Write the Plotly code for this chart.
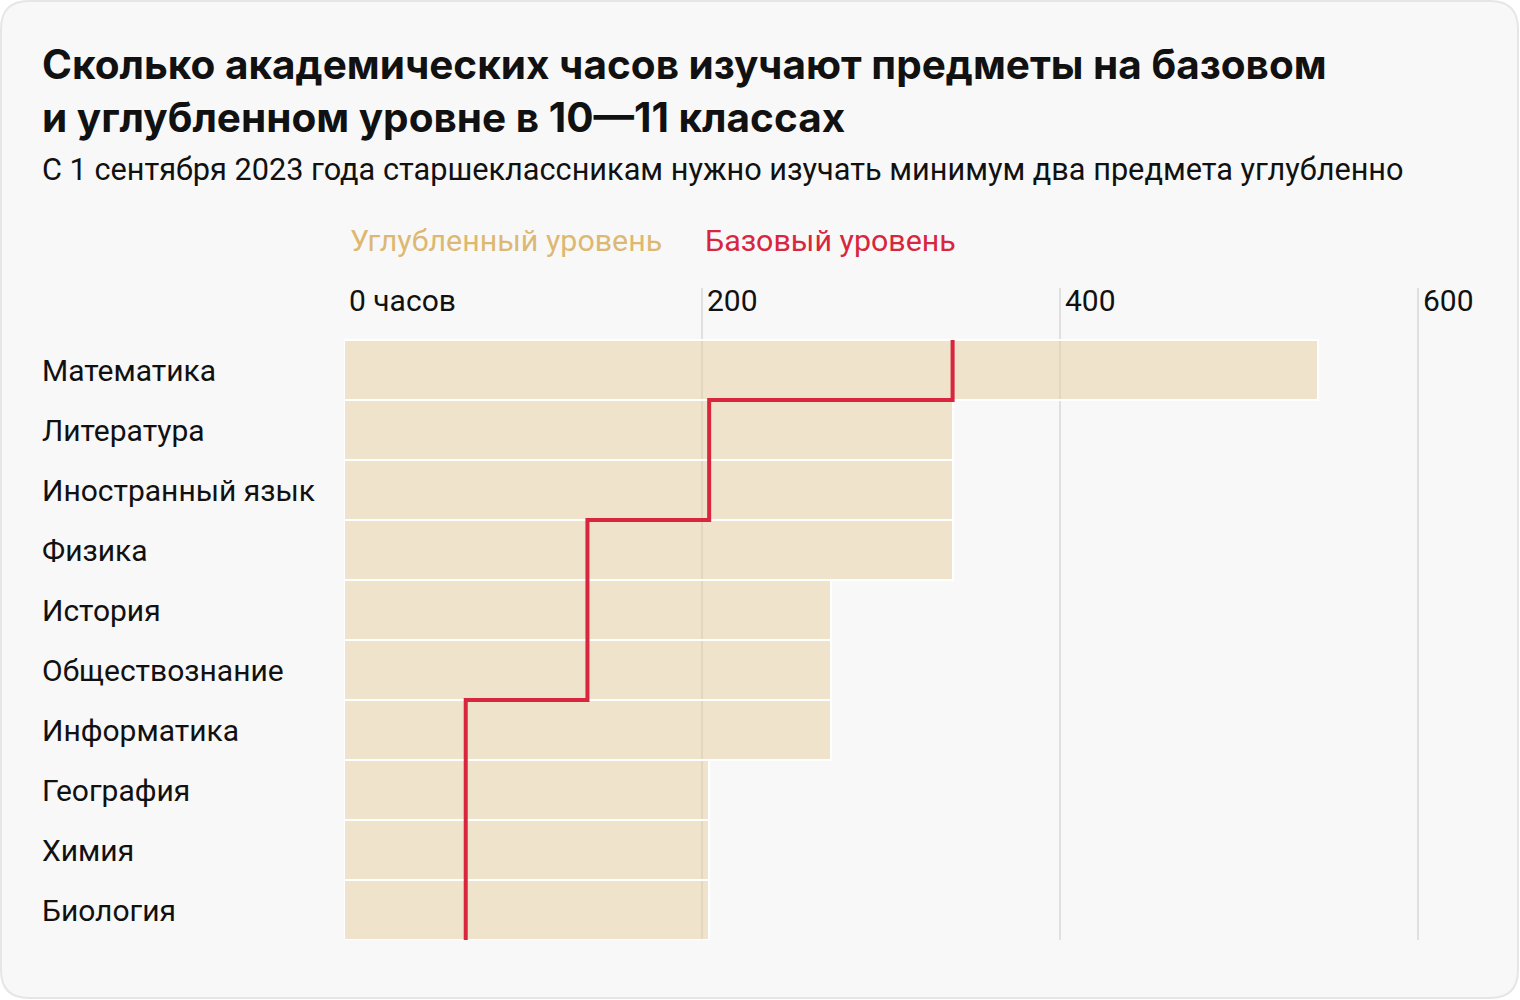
import plotly.graph_objects as go

# ------------------------------------------------------------------ data
SUBJECTS = ["Математика", "Литература", "Иностранный язык", "Физика", "История",
            "Обществознание", "Информатика", "География", "Химия", "Биология"]
ADVANCED_HOURS = [544, 340, 340, 340, 272, 272, 272, 204, 204, 204]
BASIC_HOURS = [340, 204, 204, 136, 136, 136, 68, 68, 68, 68]
TICK_VALS = [0, 200, 400, 600]
TICK_TEXT = ["0 часов", "200", "400", "600"]

TITLE = "Сколько академических часов изучают предметы на базовом<br>и углубленном уровне в 10—11 классах"
SUBTITLE = "С 1 сентября 2023 года старшеклассникам нужно изучать минимум два предмета углубленно"

FONT = "Roboto"
TITLE_FONT = "Inter"
TAN = "#DDB872"
BAR = "rgba(230,206,160,0.5)"
RED = "#D7263D"
INK = "#111111"

# ------------------------------------------------------------------ geometry
W, H = 1520, 1000
ML, MR, MT, MB = 344, 20, 288, 60
PW, PH = W - ML - MR, H - MT - MB


def px(x):
    return (x - ML) / PW


def py(y):
    return (H - MB - y) / PH


positions = list(range(len(SUBJECTS)))

# step line for the basic level: vertical span over each subject's row
step_x, step_y = [], []
for i, b in zip(positions, BASIC_HOURS):
    step_x += [b, b]
    step_y += [i - 0.5, i + 0.5]

fig = go.Figure()
fig.add_trace(go.Bar(
    x=ADVANCED_HOURS, y=positions, orientation="h", width=1,
    marker=dict(color=BAR, line=dict(color="white", width=2)),
    hoverinfo="skip", showlegend=False))
fig.add_trace(go.Scatter(
    x=step_x, y=step_y, mode="lines",
    line=dict(color=RED, width=4), hoverinfo="skip", showlegend=False))

# rounded card background
r, x0, y0, x1, y1 = 28, 1, 1, 1518, 998
card = (f"M {px(x0 + r)},{py(y0)} L {px(x1 - r)},{py(y0)} "
        f"Q {px(x1)},{py(y0)} {px(x1)},{py(y0 + r)} L {px(x1)},{py(y1 - r)} "
        f"Q {px(x1)},{py(y1)} {px(x1 - r)},{py(y1)} L {px(x0 + r)},{py(y1)} "
        f"Q {px(x0)},{py(y1)} {px(x0)},{py(y1 - r)} L {px(x0)},{py(y0 + r)} "
        f"Q {px(x0)},{py(y0)} {px(x0 + r)},{py(y0)} Z")
fig.add_shape(type="path", path=card, xref="paper", yref="paper", layer="below",
              fillcolor="#F8F8F8", line=dict(color="#E6E6E6", width=2))

ann = []
ann.append(dict(text=f"<b>{TITLE}</b>", x=px(40), y=py(38), xref="paper", yref="paper",
                xanchor="left", yanchor="top", align="left", showarrow=False,
                font=dict(family=TITLE_FONT, size=40.5, color=INK)))
ann.append(dict(text=SUBTITLE, x=px(40), y=py(170), xref="paper", yref="paper",
                xanchor="left", yanchor="middle", showarrow=False,
                font=dict(family=FONT, size=30.7, color=INK)))
ann.append(dict(text="Углубленный уровень", x=px(348), y=py(240), xref="paper", yref="paper",
                xanchor="left", yanchor="middle", showarrow=False,
                font=dict(family=FONT, size=30.4, color=TAN)))
ann.append(dict(text="Базовый уровень", x=px(703), y=py(240), xref="paper", yref="paper",
                xanchor="left", yanchor="middle", showarrow=False,
                font=dict(family=FONT, size=30.4, color=RED)))
for i, name in zip(positions, SUBJECTS):
    ann.append(dict(text=name, x=px(40), y=i, xref="paper", yref="y",
                    xanchor="left", yanchor="middle", showarrow=False,
                    font=dict(family=FONT, size=30, color=INK)))

fig.update_layout(
    width=W, height=H, margin=dict(l=ML, r=MR, t=MT, b=MB),
    paper_bgcolor="white", plot_bgcolor="rgba(0,0,0,0)",
    bargap=0, showlegend=False, annotations=ann,
    font=dict(family=FONT, color=INK),
    xaxis=dict(range=[0, PW / 1.79], side="top", tickmode="array",
               tickvals=TICK_VALS, ticktext=TICK_TEXT,
               ticklabelposition="inside right", ticks="",
               ticklabelstandoff=-4, ticklabelshift=5,
               tickfont=dict(family=FONT, size=30, color=INK),
               showgrid=True, gridcolor="#E0E0E0", gridwidth=2,
               zeroline=False, showline=False, fixedrange=True),
    yaxis=dict(range=[len(SUBJECTS) - 0.5, -0.5 - 52 / 60], showticklabels=False,
               showgrid=False, zeroline=False, showline=False, fixedrange=True),
)

fig.write_html("out.html", config={"displayModeBar": False},
               post_script="document.body.style.margin='0';document.body.style.overflow='hidden';")
